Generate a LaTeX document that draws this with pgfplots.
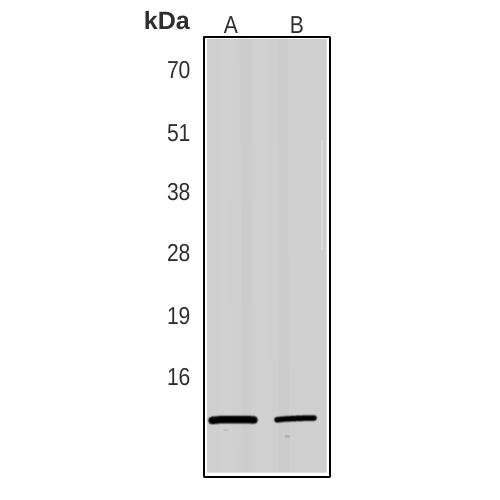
\documentclass[border=0pt]{standalone}
\usepackage{fontspec}
\setmainfont{Liberation Sans}
\newfontfamily\narrowf[FakeStretch=0.86]{Liberation Sans}
\usepackage{pgfplots}
\usepackage{pgfplotstable}
\pgfplotsset{compat=1.18}
\definecolor{blot}{gray}{0.81}
\definecolor{txt}{gray}{0.18}
\pgfplotstableread{
x y
212 420.5
220 419.7
235 419.5
250 419.7
254 420
}\bandA
\pgfplotstableread{
x y
277 419.8
285 419
300 418.3
314 418
}\bandB
\begin{document}
\begin{tikzpicture}[x=1pt,y=1pt]
\path[use as bounding box] (0,0) rectangle (500,500);
\begin{axis}[
  at={(204pt,23pt)}, anchor=south west,
  scale only axis, width=126pt, height=440pt,
  xmin=204, xmax=330, ymin=37, ymax=477, y dir=reverse,
  axis line style={line width=2pt, black, line join=round},
  axis background/.style={fill=white},
  xtick={231,297}, xticklabels={A,B}, xtick pos=upper,
  x tick label style={font=\fontsize{24.5}{25}\selectfont\narrowf, text=txt},
  ytick={70,133,192,253,316,377}, yticklabels={70,51,38,28,19,16},
  ytick pos=left,
  y tick label style={font=\fontsize{24.5}{25}\selectfont\narrowf, text=txt, xshift=-10pt},
  tick style={draw=none}, major tick length=0pt,
  axis on top,
  clip=true,
  every axis plot/.append style={mark=none},
]
% blot membrane
\addplot[fill=blot, draw=none] coordinates {(207,39) (326.5,39) (326.5,472.5) (207,472.5)} \closedcycle;
% vertical lane streaks
\addplot[line width=14pt, draw=white, opacity=0.05] coordinates {(226,39) (224,250) (226,472)};
\addplot[line width=10pt, draw=black, opacity=0.012] coordinates {(245,39) (247,472)};
\addplot[line width=16pt, draw=white, opacity=0.05] coordinates {(262,39) (264,472)};
\addplot[line width=10pt, draw=black, opacity=0.012] coordinates {(283,39) (284,472)};
\addplot[line width=14pt, draw=white, opacity=0.04] coordinates {(303,39) (305,472)};
\addplot[line width=1.5pt, draw=white, opacity=0.3] coordinates {(322,140) (322,250)};
% band A
\addplot[line width=10pt, line cap=round, draw=black, opacity=0.12] table {\bandA};
\addplot[line width=8.5pt, line cap=round, draw=black, opacity=0.35] table {\bandA};
\addplot[line width=7pt, line cap=round, draw=black, opacity=0.7] table {\bandA};
\addplot[line width=5pt, line cap=round, draw=black, opacity=0.95] table {\bandA};
% band B
\addplot[line width=8pt, line cap=round, draw=black, opacity=0.12] table {\bandB};
\addplot[line width=6.5pt, line cap=round, draw=black, opacity=0.35] table {\bandB};
\addplot[line width=5pt, line cap=round, draw=black, opacity=0.7] table {\bandB};
\addplot[line width=3.5pt, line cap=round, draw=black, opacity=0.95] table {\bandB};
% faint specks
\addplot[line width=3.5pt, line cap=round, draw=black, opacity=0.12] coordinates {(286,436.5) (289,436.5)};
\addplot[line width=2pt, line cap=round, draw=black, opacity=0.08] coordinates {(224,429.5) (228,429.5)};
\end{axis}
\node[anchor=base east, font=\fontsize{25}{25}\selectfont\bfseries, text=txt, inner sep=0pt] at (190,470) {kDa};
\end{tikzpicture}
\end{document}
